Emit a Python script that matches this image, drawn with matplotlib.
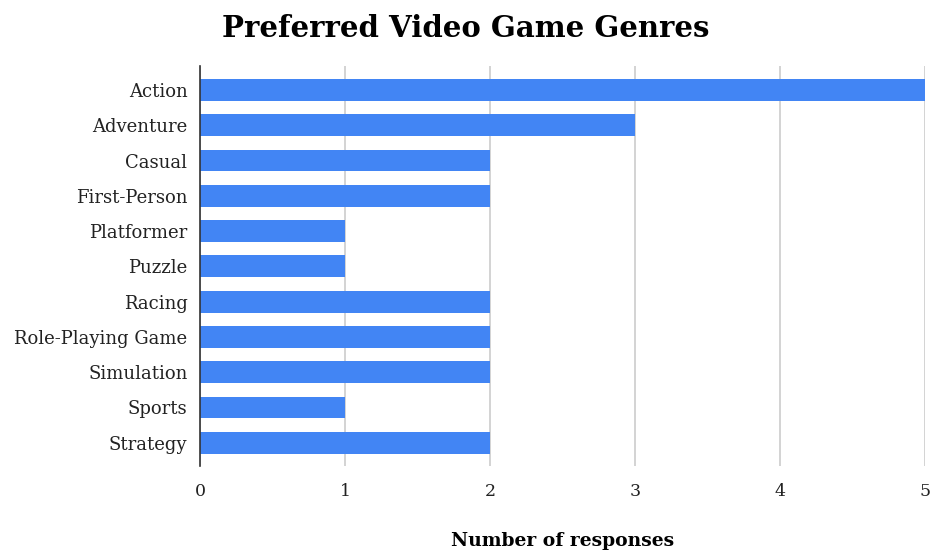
import matplotlib.pyplot as plt

genres = ['Action', 'Adventure', 'Casual', 'First-Person', 'Platformer', 'Puzzle',
          'Racing', 'Role-Playing Game', 'Simulation', 'Sports', 'Strategy']
responses = [5, 3, 2, 2, 1, 1, 2, 2, 2, 1, 2]
x_ticks = [0, 1, 2, 3, 4, 5]

plt.rcParams['font.family'] = ['DejaVu Serif']

fig = plt.figure(figsize=(9.31, 5.53), dpi=100)
ax = fig.add_axes([0.2148, 0.1573, 0.7788, 0.7234])

y = list(range(len(genres)))
ax.barh(y, responses, height=0.62, color='#4285f4', edgecolor='none', zorder=3)

ax.set_ylim(10.66, -0.68)
ax.set_xlim(0, 5)
ax.set_yticks(y)
ax.set_yticklabels(genres, fontsize=13, color='#222222')
ax.set_xticks(x_ticks)
ax.set_xticklabels([str(t) for t in x_ticks], fontsize=12.5, color='#222222')
ax.tick_params(axis='y', length=0, pad=9)
ax.tick_params(axis='x', length=0, pad=12)

ax.grid(axis='x', color='#cccccc', linewidth=1.2, zorder=0)
for s in ['top', 'right', 'bottom']:
    ax.spines[s].set_visible(False)
ax.spines['left'].set_color('#333333')
ax.spines['left'].set_linewidth(1.2)
ax.spines['left'].set_zorder(4)

fig.text(0.604, 0.022, 'Number of responses', fontsize=13.5, fontweight='bold',
         ha='center', va='center')
fig.suptitle('Preferred Video Game Genres', fontsize=21, fontweight='bold', x=0.5, y=0.975)

fig.savefig('out.png', dpi=100)
